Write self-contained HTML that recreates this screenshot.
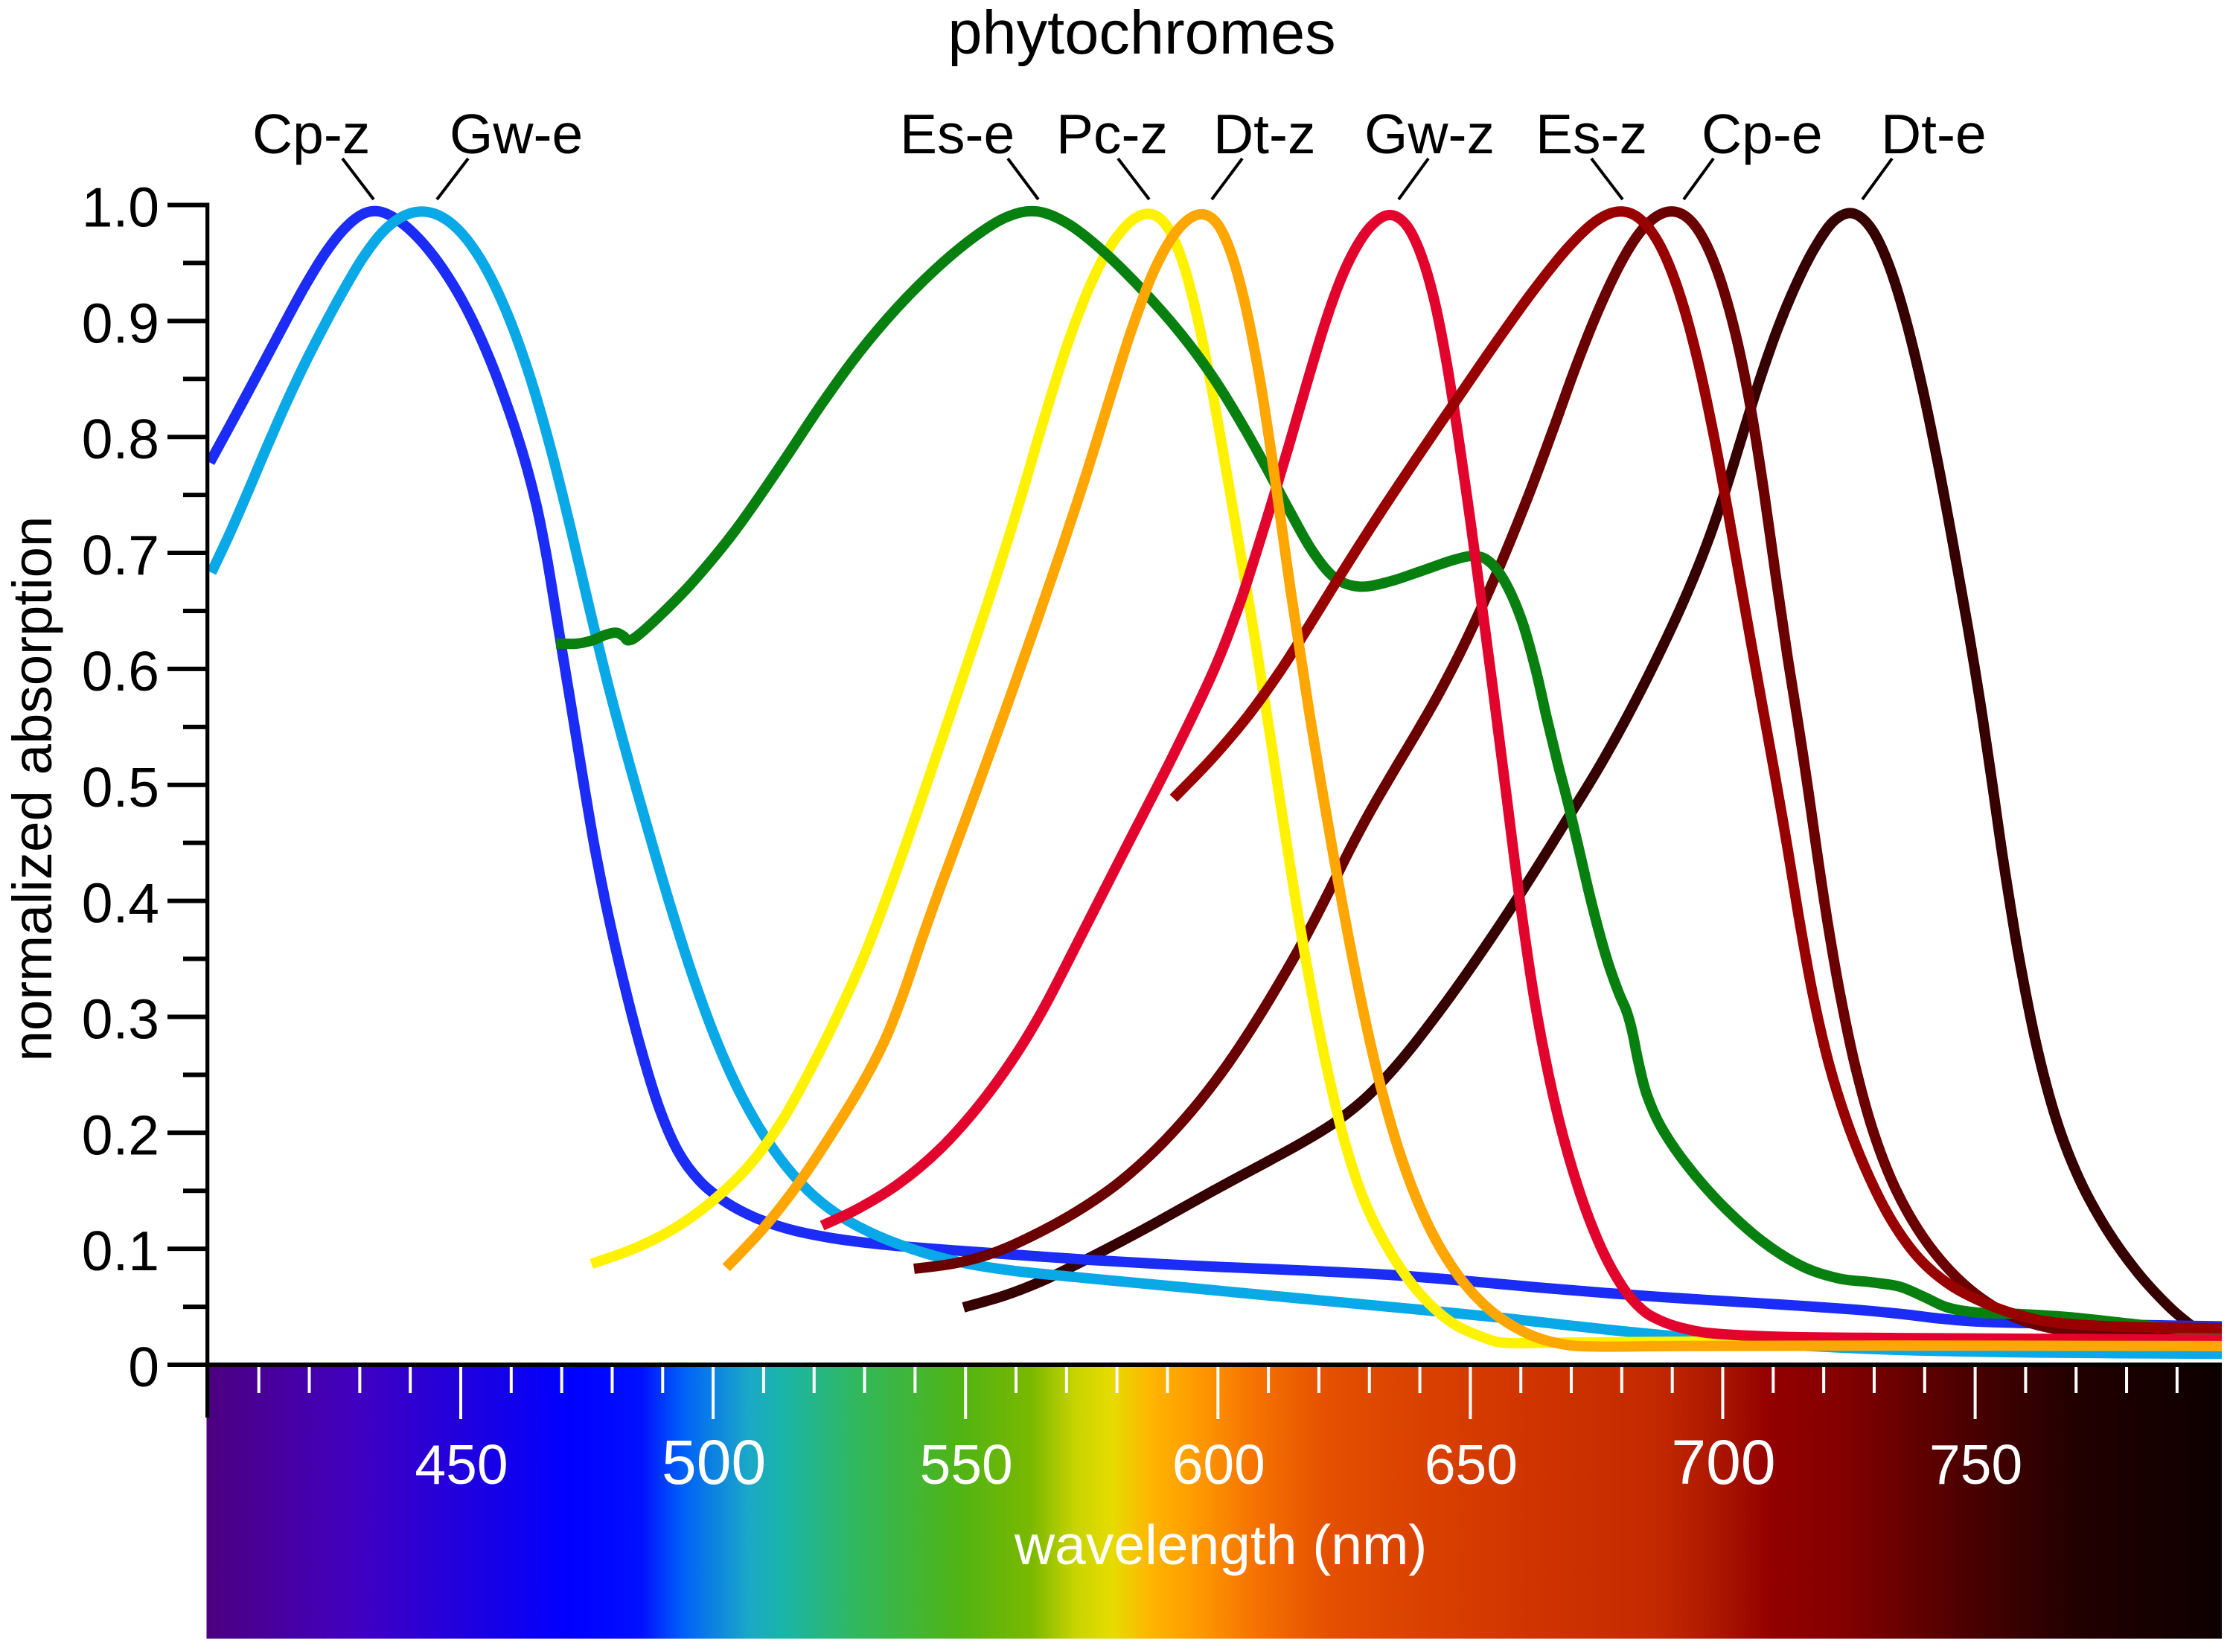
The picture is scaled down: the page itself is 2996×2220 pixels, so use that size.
<!DOCTYPE html>
<html lang="en">
<head>
<meta charset="utf-8">
<title>phytochromes</title>
<style>
html,body{margin:0;padding:0;background:#fff;}
svg{display:block;}
text{font-family:"Liberation Sans",sans-serif;}
</style>
</head>
<body>
<svg id="chart" xmlns="http://www.w3.org/2000/svg" width="2996" height="2220" viewBox="0 0 2996 2220">
  <defs>
    <linearGradient id="spectrum-gradient" gradientUnits="userSpaceOnUse" x1="277.5" y1="0" x2="2985" y2="0"></linearGradient>
    <clipPath id="plot-clip"><rect x="200" y="200" width="2785" height="1700"></rect></clipPath>
  </defs>
  <rect x="0" y="0" width="2996" height="2220" fill="#fff"></rect>
  <rect x="277.5" y="1837" width="2707.5" height="365" fill="url(#spectrum-gradient)"></rect>
  <g id="x-ticks"></g>
  <g id="x-labels"></g>
  <g id="curves" clip-path="url(#plot-clip)"></g>
  <g id="y-ticks"></g>
  <g id="y-labels"></g>
  <rect x="276" y="272.5" width="5.3" height="1632.5" fill="#000"></rect>
  <rect x="225" y="1831" width="2760" height="6" fill="#000"></rect>

  <text x="1534" y="72" font-size="83" text-anchor="middle" fill="#000">phytochromes</text>
  <text transform="translate(69 1060) rotate(-90)" font-size="74.5" text-anchor="middle" fill="#000">normalized absorption</text>
  <text x="1363" y="2102" font-size="75" fill="#fff">wavelength (nm)</text>

  <g font-size="75" fill="#000">
    <text x="339" y="206">Cp-z</text>
    <text x="604" y="206">Gw-e</text>
    <text x="1209" y="206">Es-e</text>
    <text x="1419" y="206">Pc-z</text>
    <text x="1630" y="206">Dt-z</text>
    <text x="1833" y="206">Gw-z</text>
    <text x="2063" y="206">Es-z</text>
    <text x="2286" y="206">Cp-e</text>
    <text x="2527" y="206">Dt-e</text>
  </g>
  <g stroke="#000" stroke-width="4" fill="none">
    <line x1="460" y1="213" x2="502" y2="268"></line>
    <line x1="629" y1="213" x2="587" y2="268"></line>
    <line x1="1354" y1="213" x2="1395" y2="268"></line>
    <line x1="1502" y1="213" x2="1544" y2="268"></line>
    <line x1="1669" y1="213" x2="1628" y2="268"></line>
    <line x1="1919" y1="213" x2="1879" y2="268"></line>
    <line x1="2138" y1="213" x2="2180" y2="268"></line>
    <line x1="2302" y1="213" x2="2262" y2="268"></line>
    <line x1="2542" y1="213" x2="2502" y2="268"></line>
  </g>
</svg>
<script>
// ---- data: wavelength (nm) and normalized absorption ----
const cpzNm  = [400.3,404.2,407.9,411.7,415.5,419.2,423,426.8,430.5,433.2,436.2,439.9,443.7,447.4,451.2,455,458.7,462.5,464.8,467,468.5,470,471.9,474.9,476.2,478.5,481.9,485.3,489.4,492.8,497.3,502.6,508.6,514.6,522.1,529.7,537.2,548.5,559.8,572.5,595.1,617.7,632.7,647.8,662.8,677.9,690.5,697.5,712.6,727.6,735.2,742.7,750.2,757.7,772.8,787.8,799];
const cpzAbs = [.778,.809,.839,.87,.901,.93,.958,.979,.992,.994,.99,.979,.961,.938,.91,.876,.832,.783,.7455,.698,.6556,.618,.567,.4895,.453,.404,.3355,.28,.221,.185,.159,.141,.126,.118,.11,.106,.102,.0985,.095,.0913,.0844,.0812,.0788,.0723,.0668,.0615,.0576,.056,.051,.0478,.044,.0396,.0373,.0364,.0348,.0341,.0331];

const gweNm  = [400.6,404.2,407.9,411.7,415.5,419.2,423,426.8,430.5,434.3,438,441.8,445.6,449.3,453.1,456.9,460.6,464.4,468.1,471.9,475.7,479.4,483.2,487.9,492,495.8,500.3,504.8,510.1,516.1,522.1,528.2,537.2,548.5,559.8,572.5,595.1,617.7,640.2,655.3,670.3,682.5,697.5,715,735,760,799];
const gweAbs = [.683,.7145,.754,.793,.829,.865,.896,.925,.955,.975,.989,.994,.991,.979,.959,.9286,.891,.842,.786,.719,.649,.58,.523,.45,.388,.339,.283,.239,.198,.162,.139,.121,.103,.0887,.0805,.0766,.0658,.056,.0478,.0413,.0331,.0282,.022,.017,.0125,.0105,.0095];

const eseNm  = [468.9,473,476,478.3,480.9,482.4,483.4,484.6,488.8,496.4,503.9,513.7,521.2,528.8,536.3,543.8,551.3,558.8,563.7,570.1,577.7,585.2,592.7,598.7,604,610,613.9,619.2,622.9,628.2,633.5,641,647,650.8,653.8,656.8,660.6,662.8,665.1,667.3,669.6,671.1,674.1,677.1,679.4,681,682,683.4,685,687.8,692.3,699.8,708.1,715.6,723.1,729.2,735.2,739.7,745,749.5,760,769,780.3,799];
const eseAbs = [.622,.621,.6236,.6295,.6327,.629,.624,.628,.644,.677,.7145,.7766,.829,.871,.911,.943,.971,.99,.994,.985,.958,.9254,.888,.855,.816,.77,.7406,.698,.6785,.671,.675,.686,.694,.6965,.692,.675,.639,.603,.554,.518,.4826,.453,.394,.3486,.319,.306,.292,.258,.232,.2064,.175,.138,.105,.0854,.0733,.0713,.07,.0592,.0471,.0445,.0452,.0406,.0354,.0265];

const pczNm  = [475.9,484.5,492,499.6,507.1,513.1,519.1,525.1,531.2,535.7,548.3,554.3,560.4,564.9,570.9,576.2,581.4,586,589.7,592.7,595.7,598.7,601.7,604.8,607.8,610,614.7,617.7,621.4,625.2,629,634.2,640.2,646.3,652.3,661.3,674.1,690.5,799];
const pczAbs = [.087,.1,.1165,.141,.172,.205,.254,.309,.365,.417,.58,.6556,.737,.806,.891,.9466,.977,.994,.982,.953,.907,.845,.767,.692,.61,.561,.4107,.345,.2636,.188,.1426,.0968,.061,.037,.0235,.019,.019,.0216,.021];

const dtzNm  = [502.6,510.1,516.9,523.6,529.7,534.2,537.9,541.7,545.5,549.2,558.8,564.1,569.4,573.9,578.4,582.9,587.4,591.2,596.5,599.5,602.5,605.5,608.5,611.5,614.5,617.5,623.7,627.5,632,636.5,641.7,647.8,653.8,661.3,668.8,677.9,690.5,727.6,799];
const dtzAbs = [.0838,.1165,.156,.2015,.244,.28,.322,.375,.417,.4607,.574,.6426,.708,.767,.829,.894,.943,.974,.994,.984,.9564,.914,.845,.76,.662,.577,.4205,.332,.2472,.175,.12,.0772,.0478,.0265,.0184,.0161,.0165,.0168,.0161];

const gwzNm  = [521.6,528.2,537.2,544.7,552.2,559.8,565.8,571,579.9,592.7,598.7,604,607.8,610.8,613.8,617.5,621.3,624,627,630.1,634.2,637.2,640.2,643,645,647.5,650,652.3,654.5,657,659.8,662.8,666.6,671.1,675.6,680.1,684.6,687,692.3,699.1,708.8,735.2,765.3,799];
const gwzAbs = [.12,.133,.157,.185,.221,.267,.309,.355,.432,.538,.5935,.652,.705,.747,.786,.845,.901,.93,.96,.98,.994,.982,.9564,.917,.868,.806,.725,.6556,.58,.4995,.404,.306,.231,.1557,.1034,.0674,.0462,.0413,.0321,.0265,.0243,.0233,.0223,.0216];

const eszNm  = [591.2,598.7,605.5,613.2,617.7,624.5,632,639.5,647,654.5,662.1,669.6,674.9,679.4,683.9,687.7,691.4,695.2,698.2,701.2,704.2,707.2,710.8,712.6,714.9,717.9,720.9,724.6,729.2,733.7,739,745,751.7,759.3,766.8,776.6,799];
const eszAbs = [.4885,.522,.556,.6033,.636,.682,.734,.783,.829,.878,.924,.9646,.985,.994,.987,.963,.924,.865,.7995,.731,.659,.58,.4995,.453,.391,.316,.2636,.208,.1622,.123,.0903,.0691,.0543,.0429,.0364,.0324,.0315];

const cpeNm  = [539.8,548.5,556,563.5,572.5,580.1,587.6,595.1,601.1,607.1,612.4,617.7,622.2,626,630.5,635,640,644,649.3,654.5,662.1,666.6,670.3,674.9,679.4,683.1,686.9,690.3,693.7,696.7,699.7,702.7,705.7,708,710.6,712.9,715.1,716.8,718.6,720.9,723.1,726.1,729.9,734.4,739.7,746.5,754,761.5,769,780.3,799];
const cpeAbs = [.0828,.087,.0968,.1132,.133,.156,.185,.221,.254,.293,.332,.3715,.4074,.4467,.478,.514,.55,.5804,.626,.675,.754,.809,.855,.904,.9466,.974,.989,.994,.987,.9646,.932,.888,.819,.76,.675,.6033,.554,.4995,.4434,.378,.3257,.26,.198,.1524,.11,.074,.0494,.0364,.0298,.0249,.0226];

const dteNm  = [549.6,558.3,565,572.5,580.1,587.6,595.1,602.6,610.2,617.7,623.7,629.7,636.5,644,651.5,659.1,666.6,670.3,675.6,679.4,686.9,692.2,696.7,700.4,703.5,707.2,711,714.7,718.5,722.3,725.5,729.8,732.8,735.8,739.5,742.5,745.5,748.6,750.8,753.5,755.5,758.5,762.3,766,770.5,775.8,781.8,787.8,793.1,795];
const dteAbs = [.0494,.0592,.0723,.088,.105,.1214,.141,.159,.1753,.1949,.2113,.231,.2636,.306,.352,.3993,.4532,.479,.516,.5445,.61,.6556,.708,.7505,.7962,.8485,.8943,.9335,.963,.987,.994,.979,.9466,.9074,.8453,.78,.708,.636,.577,.4995,.4369,.355,.2734,.2113,.1622,.1197,.0805,.0527,.0331,.028];

const spectrumNm     = [400,429,457.5,471.6,485.7,494,507,514,528,549,563,571.8,579,587,594,608,622,636,664,686,697,710,722,735,749,770,799];
const spectrumColors = ['#4c0080','#4100c0','#1500e8','#0000ff','#0010ff','#0060f8','#1aa8c8','#1ab5a8','#30b860','#50b414','#7ab800','#c8d400','#e6dc00','#ffb400','#ffa000','#f57000','#e45000','#dc4400','#cf3300','#c42a00','#b01a00','#920000','#860000','#6a0000','#4a0000','#220000','#0d0000'];

const yTickValues  = [0,.05,.1,.15,.2,.25,.3,.35,.4,.45,.5,.55,.6,.65,.7,.75,.8,.85,.9,.95,1];
const yTickLabels  = ['0','0.1','0.2','0.3','0.4','0.5','0.6','0.7','0.8','0.9','1.0'];
const yLabelValues = [0,.1,.2,.3,.4,.5,.6,.7,.8,.9,1];
const xTickValues  = [410,420,430,440,450,460,470,480,490,500,510,520,530,540,550,560,570,580,590,600,610,620,630,640,650,660,670,680,690,700,710,720,730,740,750,760,770,780,790];
const xLabelValues = [450,500,550,600,650,700,750];
const xLabelTexts  = ['450','500','550','600','650','700','750'];

// draw order, bottom to top
const seriesNames  = ['dt-e','cp-z','gw-e','cp-e','pc-z','es-e','gw-z','es-z','dt-z'];
const seriesColors = ['#360000','#1a2cf5','#09a8e6','#6b0000','#fff200','#08800f','#e2042c','#990000','#ffa600'];
const seriesNmData  = [dteNm,cpzNm,gweNm,cpeNm,pczNm,eseNm,gwzNm,eszNm,dtzNm];
const seriesAbsData = [dteAbs,cpzAbs,gweAbs,cpeAbs,pczAbs,eseAbs,gwzAbs,eszAbs,dtzAbs];

// ---- axis functions ----
function xScale(nm){ return 619 + (nm - 450) * 6.782; }
function yScale(a){ return 1834 - a * 1558.5; }

const NS = 'http://www.w3.org/2000/svg';
function svgEl(tag, parent){
  const el = document.createElementNS(NS, tag);
  parent.appendChild(el);
  return el;
}

// removes hand-reading jitter without shrinking the peaks
function laplacianStep(a, f){
  const out = a.slice();
  for (let i = 1; i < a.length - 1; i++){
    out[i] = a[i] + f * ((a[i - 1] + a[i + 1]) / 2 - a[i]);
  }
  return out;
}
function denoise(a){
  let r = a;
  for (let k = 0; k < 3; k++){
    r = laplacianStep(r, 0.5);
    r = laplacianStep(r, -0.52);
  }
  return r;
}

function curvePath(nm, abs){
  const px = denoise(nm.map(xScale));
  const py = denoise(abs.map(yScale));
  const n = px.length;
  let d = 'M' + px[0].toFixed(1) + ' ' + py[0].toFixed(1);
  for (let i = 0; i < n - 1; i++){
    const a = Math.max(0, i - 1), b = Math.min(n - 1, i + 2);
    const c1x = px[i] + (px[i + 1] - px[a]) / 6;
    const c1y = py[i] + (py[i + 1] - py[a]) / 6;
    const c2x = px[i + 1] - (px[b] - px[i]) / 6;
    const c2y = py[i + 1] - (py[b] - py[i]) / 6;
    d += 'C' + c1x.toFixed(1) + ' ' + c1y.toFixed(1) + ' ' + c2x.toFixed(1) + ' ' + c2y.toFixed(1) + ' ' +
         px[i + 1].toFixed(1) + ' ' + py[i + 1].toFixed(1);
  }
  return d;
}

// spectrum gradient
const grad = document.getElementById('spectrum-gradient');
spectrumNm.forEach(function(nm, i){
  const stop = svgEl('stop', grad);
  stop.setAttribute('offset', ((xScale(nm) - 277.5) / 2707.5).toFixed(4));
  stop.setAttribute('stop-color', spectrumColors[i]);
});

// curves
const curves = document.getElementById('curves');
seriesNames.forEach(function(name, i){
  const path = svgEl('path', curves);
  
  
  path.setAttribute('d', curvePath(seriesNmData[i], seriesAbsData[i]));
  path.setAttribute('fill', 'none');
  path.setAttribute('stroke', seriesColors[i]);
  path.setAttribute('stroke-width', '14');
  path.setAttribute('stroke-linejoin', 'round');
});

// y ticks
const yTicks = document.getElementById('y-ticks');
yTickValues.forEach(function(v, i){
  const t = svgEl('line', yTicks);
  
  
  t.setAttribute('x1', i % 2 === 0 ? 225 : 246);
  t.setAttribute('x2', 279);
  t.setAttribute('y1', yScale(v));
  t.setAttribute('y2', yScale(v));
  t.setAttribute('stroke', '#000');
  t.setAttribute('stroke-width', '6');
});
const yLabels = document.getElementById('y-labels');
yLabelValues.forEach(function(v, i){
  const t = svgEl('text', yLabels);
  
  
  t.setAttribute('x', 214);
  t.setAttribute('y', yScale(v) + 29);
  t.setAttribute('font-size', '75');
  t.setAttribute('text-anchor', 'end');
  t.setAttribute('fill', '#000');
  t.textContent = yTickLabels[i];
});

// x ticks
const xTicks = document.getElementById('x-ticks');
xTickValues.forEach(function(v){
  const t = svgEl('line', xTicks);
  
  
  t.setAttribute('x1', xScale(v));
  t.setAttribute('x2', xScale(v));
  t.setAttribute('y1', 1837);
  t.setAttribute('y2', v % 50 === 0 ? 1907 : 1872);
  t.setAttribute('stroke', '#fff');
  t.setAttribute('stroke-width', '4');
});
const xLabels = document.getElementById('x-labels');
xLabelValues.forEach(function(v, i){
  const t = svgEl('text', xLabels);
  
  
  t.setAttribute('x', xScale(v) + 1);
  t.setAttribute('y', 1994);
  t.setAttribute('font-size', (v === 500 || v === 700) ? '84' : '75');
  t.setAttribute('text-anchor', 'middle');
  t.setAttribute('fill', '#fff');
  t.textContent = xLabelTexts[i];
});
</script>
</body>
</html>
